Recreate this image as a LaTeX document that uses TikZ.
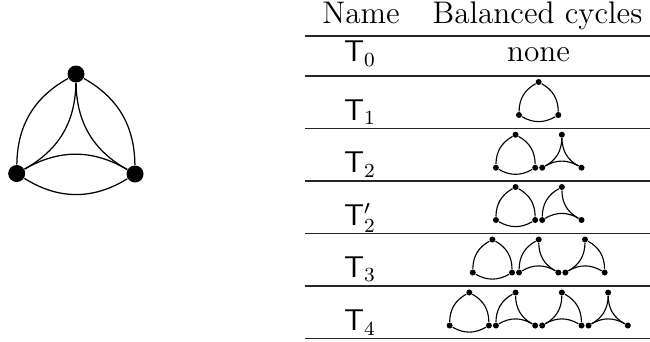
\documentclass[tikz,border=0pt]{standalone}
\begin{document}
\begin{tikzpicture}[x=0.4pt,y=-0.4pt,
  bigdot/.style={circle,fill=black,inner sep=0pt,minimum size=6.8pt},
  sdot/.style={circle,fill=black,inner sep=0pt,minimum size=2.4pt},
  bigedge/.style={line width=0.5pt},
  sedge/.style={line width=0.45pt},
  rulestyle/.style={line width=0.55pt,black!85},
  hdr/.style={inner sep=0pt,anchor=base,font=\fontsize{12.5}{14}\selectfont},
  lbl/.style={inner sep=0pt,anchor=base,font=\fontsize{12}{14}\selectfont}]
\useasboundingbox (0,0) rectangle (650,341);
% big graph
\node[bigdot] (t) at (76,74) {};
\node[bigdot] (l) at (16.7,173.5) {};
\node[bigdot] (r) at (135,174) {};
\draw[bigedge] (t) to[bend right=30] (l);
\draw[bigedge] (t) to[bend left=30] (l);
\draw[bigedge] (l) to[bend right=32] (r);
\draw[bigedge] (l) to[bend left=30] (r);
\draw[bigedge] (r) to[bend right=30] (t);
\draw[bigedge] (r) to[bend left=30] (t);
% table rules
\draw[rulestyle] (305,36) -- (650,36);
\draw[rulestyle] (305,76) -- (650,76);
\draw[rulestyle] (305,128.5) -- (650,128.5);
\draw[rulestyle] (305,181) -- (650,181);
\draw[rulestyle] (305,233.5) -- (650,233.5);
\draw[rulestyle] (305,286) -- (650,286);
\draw[rulestyle] (305,338.5) -- (650,338.5);
% header
\node[hdr] (hname) at (361,23.3) {Name};
\node[hdr] (hcyc) at (537.5,23.3) {Balanced cycles};
% labels
\node[lbl] (n0) at (360,61.7) {$\mathsf{T}_0$};
\node[hdr] (none) at (538.5,61.7) {none};
\node[lbl] (n1) at (360,120) {$\mathsf{T}_1$};
\node[lbl] (n2) at (360,172.7) {$\mathsf{T}_2$};
\node[lbl] (n2p) at (360,225) {$\mathsf{T}'_2$};
\node[lbl] (n3) at (360,277.3) {$\mathsf{T}_3$};
\node[lbl] (n4) at (360,330.7) {$\mathsf{T}_4$};
% small cycles: name, x, ybottom, left bend, right bend, bottom bend (right = outward)
\newcommand\cyc[6]{%
 \node[sdot] (#1l) at (#2,#3) {};
 \node[sdot] (#1t) at ({#2+19.65},{#3-33}) {};
 \node[sdot] (#1r) at ({#2+39.3},#3) {};
 \draw[sedge] (#1t) to[bend #4=30] (#1l);
 \draw[sedge] (#1l) to[bend #6=30] (#1r);
 \draw[sedge] (#1r) to[bend #5=30] (#1t);
}
\cyc{aa}{519}{115}{right}{right}{right}
\cyc{ba}{495.9}{167.7}{right}{right}{right}
\cyc{bb}{542.2}{167.7}{left}{left}{left}
\cyc{ca}{495.9}{220}{right}{right}{right}
\cyc{cb}{542.2}{220}{right}{left}{left}
\cyc{da}{472.75}{272.5}{right}{right}{right}
\cyc{db}{519.05}{272.5}{right}{left}{left}
\cyc{dc}{565.35}{272.5}{left}{right}{left}
\cyc{ea}{449.6}{325.5}{right}{right}{right}
\cyc{eb}{495.9}{325.5}{right}{left}{left}
\cyc{ec}{542.2}{325.5}{left}{right}{left}
\cyc{ed}{588.5}{325.5}{left}{left}{left}
\end{tikzpicture}
\end{document}
